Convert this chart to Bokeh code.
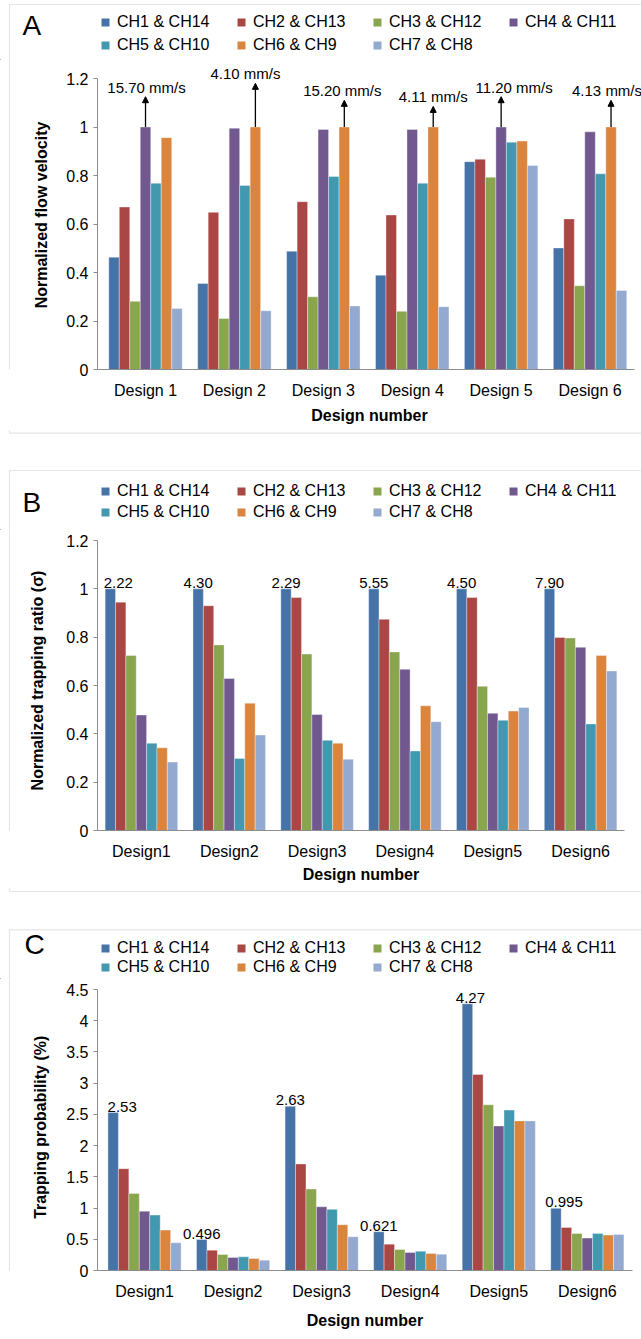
from bokeh.plotting import figure
from bokeh.models import (ColumnDataSource, Legend, LegendItem, LabelSet, Label,
                          BoxAnnotation, Arrow, NormalHead, FixedTicker, Range1d)
from bokeh.transform import dodge
from bokeh.layouts import column, row
from bokeh.core.properties import value
from bokeh.embed import file_html
from bokeh.resources import INLINE

# ---------------- data ----------------
channels = ["CH1 & CH14", "CH2 & CH13", "CH3 & CH12", "CH4 & CH11",
            "CH5 & CH10", "CH6 & CH9", "CH7 & CH8"]
colors = ["#4572A7", "#AA4643", "#89A54E", "#71588F", "#4198AF", "#DB843D", "#93A9CF"]

design_pos = [1, 2, 3, 4, 5, 6]
designs_a = ["Design 1", "Design 2", "Design 3", "Design 4", "Design 5", "Design 6"]
designs_bc = ["Design1", "Design2", "Design3", "Design4", "Design5", "Design6"]

# Panel A: normalized flow velocity (one list per channel pair, Design 1..6)
flow_ch1 = [0.463, 0.355, 0.488, 0.389, 0.857, 0.501]
flow_ch2 = [0.670, 0.648, 0.692, 0.637, 0.867, 0.621]
flow_ch3 = [0.281, 0.210, 0.300, 0.240, 0.793, 0.345]
flow_ch4 = [1.000, 0.995, 0.990, 0.990, 1.000, 0.980]
flow_ch5 = [0.768, 0.759, 0.796, 0.768, 0.937, 0.807]
flow_ch6 = [0.956, 1.000, 1.000, 1.000, 0.942, 1.000]
flow_ch7 = [0.252, 0.242, 0.262, 0.259, 0.841, 0.326]
flow_ref_text = ["15.70 mm/s", "4.10 mm/s", "15.20 mm/s", "4.11 mm/s", "11.20 mm/s", "4.13 mm/s"]
flow_arrow_tip = [1.125, 1.18, 1.11, 1.085, 1.125, 1.11]

# Panel B: normalized trapping ratio
ratio_ch1 = [1.000, 1.000, 1.000, 1.000, 1.000, 1.000]
ratio_ch2 = [0.945, 0.930, 0.964, 0.874, 0.964, 0.799]
ratio_ch3 = [0.724, 0.768, 0.730, 0.739, 0.597, 0.797]
ratio_ch4 = [0.478, 0.629, 0.480, 0.667, 0.485, 0.758]
ratio_ch5 = [0.361, 0.298, 0.373, 0.329, 0.456, 0.441]
ratio_ch6 = [0.342, 0.527, 0.361, 0.516, 0.494, 0.724]
ratio_ch7 = [0.283, 0.395, 0.295, 0.450, 0.509, 0.660]
ratio_ref_text = ["2.22", "4.30", "2.29", "5.55", "4.50", "7.90"]

# Panel C: trapping probability (%)
prob_ch1 = [2.530, 0.496, 2.630, 0.621, 4.270, 0.995]
prob_ch2 = [1.630, 0.326, 1.706, 0.422, 3.140, 0.690]
prob_ch3 = [1.235, 0.257, 1.305, 0.337, 2.654, 0.594]
prob_ch4 = [0.950, 0.209, 1.021, 0.289, 2.315, 0.519]
prob_ch5 = [0.888, 0.219, 0.979, 0.310, 2.569, 0.594]
prob_ch6 = [0.647, 0.193, 0.733, 0.273, 2.396, 0.567]
prob_ch7 = [0.444, 0.166, 0.540, 0.262, 2.396, 0.578]
prob_ref_text = ["2.53", "0.496", "2.63", "0.621", "4.27", "0.995"]

yticks_a = [0, 0.2, 0.4, 0.6, 0.8, 1.0, 1.2]
ytick_labels_a = ["0", "0.2", "0.4", "0.6", "0.8", "1", "1.2"]
yticks_b = [0, 0.2, 0.4, 0.6, 0.8, 1.0, 1.2]
ytick_labels_b = ["0", "0.2", "0.4", "0.6", "0.8", "1", "1.2"]
yticks_c = [0, 0.5, 1.0, 1.5, 2.0, 2.5, 3.0, 3.5, 4.0, 4.5]
ytick_labels_c = ["0", "0.5", "1", "1.5", "2", "2.5", "3", "3.5", "4", "4.5"]

# ---------------- styling ----------------
FONT = "Liberation Sans"
AXIS_GREY = "#8c8c8c"
BOX_GREY = "#a6a6a6"
BAR_W = 0.118
OFFSETS = [(k - 3) * BAR_W for k in range(7)]
STRIP_W = 10


def blank(width, height):
    """A figure whose frame fills the whole canvas (pixel data units, y up)."""
    f = figure(width=width, height=height, x_range=Range1d(0, width),
               y_range=Range1d(0, height), x_axis_type=None, y_axis_type=None,
               toolbar_location=None, output_backend="svg", min_border=0)
    f.outline_line_color = None
    f.grid.visible = False
    return f


def box(left, right, top, bottom):
    return BoxAnnotation(left=left, right=right, top=top, bottom=bottom, fill_alpha=0,
                         line_color=BOX_GREY, line_width=1.2)


def header(height, box_top, letter, letter_x, letter_y, legend_top, row_h):
    h = blank(641, height)
    h.add_layout(box(9, 3000, height - box_top, -100))
    items = []
    for k in range(7):
        # swatch renderer for the legend (placed outside the visible range)
        r = h.vbar(x=[-1000], top=[1], width=1, fill_color=colors[k], line_color=None)
        items.append(LegendItem(label=channels[k], renderers=[r]))
    legend_bottom = legend_top + 8 + 2 * row_h
    leg = Legend(items=items, location=(100, height - legend_bottom),
                 orientation="horizontal", ncols=4, spacing=0, padding=4, margin=0,
                 glyph_width=10, glyph_height=10, label_standoff=7, label_width=119,
                 label_height=row_h, label_text_font=FONT, label_text_font_size="16px",
                 label_text_color="black", border_line_color=None,
                 background_fill_alpha=0)
    h.add_layout(leg, "center")
    h.add_layout(Label(x=letter_x, y=height - letter_y, text=letter, text_font=FONT,
                       text_font_size="28px", text_baseline="middle", text_align="left",
                       text_color="black"))
    return h


def footer(height, box_bottom):
    f = blank(641, height)
    f.add_layout(box(9, 3000, height + 100, height - box_bottom))
    return f


def strip(height):
    s = blank(STRIP_W, height)
    s.add_layout(box(9, 3000, height + 100, -100))
    return s


def chart(height, frame_bottom, frame_right, xr, xbounds, yr, ybounds,
          yticks, ylabels, ytitle, xlabels, series, ylabel_standoff, xlabel_standoff):
    p = figure(width=641 - STRIP_W, height=height, x_range=Range1d(*xr),
               y_range=Range1d(*yr), output_backend="svg", toolbar_location=None,
               min_border_left=97 - STRIP_W, min_border_right=641 - frame_right,
               min_border_top=0, min_border_bottom=height - frame_bottom)
    p.outline_line_color = None
    p.grid.visible = False

    data = {"x": design_pos}
    for k, s in enumerate(series):
        data["c%d" % k] = s
    src = ColumnDataSource(data)
    for k in range(7):
        p.vbar(x=dodge("x", OFFSETS[k]), top="c%d" % k, width=BAR_W, source=src,
               fill_color=colors[k], line_color="white", line_width=0.6, line_alpha=0.6)

    xa = p.xaxis[0]
    xa.ticker = FixedTicker(ticks=design_pos)
    xa.major_label_overrides = {d: lab for d, lab in zip(design_pos, xlabels)}
    xa.bounds = xbounds
    xa.major_tick_out = 0
    xa.major_tick_in = 0
    xa.minor_tick_out = 0
    xa.minor_tick_in = 0
    xa.axis_line_color = AXIS_GREY
    xa.major_label_standoff = 12
    xa.major_label_text_font = FONT
    xa.major_label_text_font_size = "16px"
    xa.major_label_text_color = "black"
    xa.axis_label = "Design number"
    xa.axis_label_text_font = FONT
    xa.axis_label_text_font_size = "16px"
    xa.axis_label_text_font_style = "bold"
    xa.axis_label_text_color = "black"
    xa.axis_label_standoff = xlabel_standoff

    ya = p.yaxis[0]
    ya.ticker = FixedTicker(ticks=yticks)
    ya.major_label_overrides = {t: lab for t, lab in zip(yticks, ylabels)}
    ya.bounds = ybounds
    ya.major_tick_out = 4
    ya.major_tick_in = 0
    ya.minor_tick_out = 0
    ya.minor_tick_in = 0
    ya.axis_line_color = AXIS_GREY
    ya.major_tick_line_color = AXIS_GREY
    ya.major_label_standoff = 5
    ya.major_label_text_font = FONT
    ya.major_label_text_font_size = "16px"
    ya.major_label_text_color = "black"
    ya.axis_label = ytitle
    ya.axis_label_text_font = FONT
    ya.axis_label_text_font_size = "16px"
    ya.axis_label_text_font_style = "bold"
    ya.axis_label_text_color = "black"
    ya.axis_label_standoff = ylabel_standoff
    return p


def value_labels(p, xs, ys, texts, dx):
    src = ColumnDataSource({"x": xs, "y": ys, "t": texts, "dx": dx})
    p.add_layout(LabelSet(x="x", y="y", text="t", source=src, x_offset="dx", y_offset=1,
                          text_align="center", text_baseline="bottom",
                          text_font=value(FONT), text_font_size=value("15px"),
                          text_color="black"))


# ---------------- Panel A ----------------
hA = header(60, 4, "A", 22, 25, 2.5, 23)
cA = chart(370, 309, 641, (0.46, 6.5 + 7 / 88.9), (0.46, 6.5), (0, 309 / 242.5), (0, 1.2),
           yticks_a, ytick_labels_a, "Normalized flow velocity", designs_a,
           [flow_ch1, flow_ch2, flow_ch3, flow_ch4, flow_ch5, flow_ch6, flow_ch7], 13, 5)
flow_series = [flow_ch1, flow_ch2, flow_ch3, flow_ch4, flow_ch5, flow_ch6, flow_ch7]
ref_idx = []
for d in range(6):
    vals = [s[d] for s in flow_series]
    ref_idx.append(max(range(7), key=lambda k: (vals[k], k)))
arrow_x = [design_pos[d] + OFFSETS[ref_idx[d]] for d in range(6)]
arrow_y0 = [flow_series[ref_idx[d]][d] for d in range(6)]
arr_src = ColumnDataSource({"x": arrow_x, "y0": arrow_y0, "y1": flow_arrow_tip})
cA.add_layout(Arrow(end=NormalHead(size=6, fill_color="black", line_color="black"),
                    x_start="x", y_start="y0", x_end="x", y_end="y1", source=arr_src,
                    line_color="black", line_width=1.3))
value_labels(cA, arrow_x, flow_arrow_tip, flow_ref_text, [1, -10, -2, 0, 13, -4])
fA = footer(21, 2.7)
panelA = column(hA, row(strip(370), cA), fA)

# ---------------- Panel B ----------------
hB = header(79, 19, "B", 22, 50.7, 21.3, 21)
cB = chart(358, 300, 624, (0.5, 6.5), (0.5, 6.5), (0, 1.2 * 300 / 290), (0, 1.2),
           yticks_b, ytick_labels_b, "Normalized trapping ratio (σ)", designs_bc,
           [ratio_ch1, ratio_ch2, ratio_ch3, ratio_ch4, ratio_ch5, ratio_ch6, ratio_ch7], 17, 3)
value_labels(cB, [d + OFFSETS[0] for d in design_pos], ratio_ch1, ratio_ref_text,
             [8, 0, 0, 0, 0, 0])
fB = footer(22, 3)
panelB = column(hB, row(strip(358), cB), fB)

# ---------------- Panel C ----------------
hC = header(69, 19.3, "C", 24, 34, 20.5, 19)
cC = chart(360, 291, 632, (0.469, 6.51), (0.469, 6.51), (0, 4.5 * 291 / 281), (0, 4.5),
           yticks_c, ytick_labels_c, "Trapping  probability (%)", designs_bc,
           [prob_ch1, prob_ch2, prob_ch3, prob_ch4, prob_ch5, prob_ch6, prob_ch7], 14, 9)
value_labels(cC, [d + OFFSETS[0] for d in design_pos], prob_ch1, prob_ref_text,
             [9, 0, 0, 0, 3, 8])
panelC = column(hC, row(strip(360), cC))

layout = column(panelA, panelB, panelC, spacing=0)
open("out.html", "w").write(file_html(layout, INLINE))
